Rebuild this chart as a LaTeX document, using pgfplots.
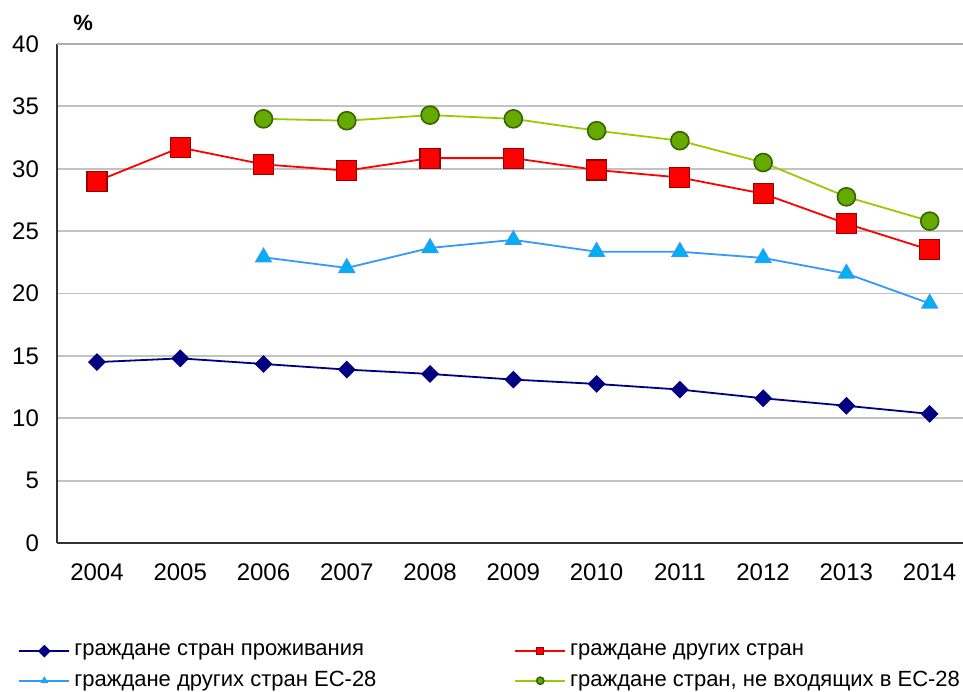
\documentclass[border=0pt]{standalone}
\usepackage{pgfplots}
\pgfplotsset{compat=1.18}
\usepackage{fontspec}
\setmainfont{Liberation Sans}
\definecolor{cNavy}{HTML}{000080}
\definecolor{cRed}{HTML}{FF0000}
\definecolor{cRedD}{HTML}{990000}
\definecolor{cBlue}{HTML}{3399FF}
\definecolor{cCyan}{HTML}{00B0F0}
\definecolor{cGreen}{HTML}{99CC00}
\definecolor{cGreenF}{HTML}{66AA00}
\definecolor{cGreenD}{HTML}{336600}
\begin{document}
\begin{tikzpicture}
\begin{axis}[
  scale only axis,
  width=453pt, height=249.5pt,
  xmin=2003.52, xmax=2014.4,
  ymin=0, ymax=40,
  ytick={0,5,...,40},
  xtick={2004,...,2014},
  /pgf/number format/1000 sep={},
  /pgf/number format/assume math mode=true,
  tick label style={font=\fontsize{12}{14}\selectfont},
  xticklabel style={yshift=-7pt},
  yticklabel style={xshift=-5.5pt},
  major tick length=0pt,
  axis x line*=bottom, axis y line*=left,
  axis line style={draw=black!80, line width=1pt, -},
  ymajorgrids, grid style={draw=black!24, line width=0.9pt},
  clip=false,
  legend columns=2,
  legend style={draw=none, at={(rel axis cs:-0.0496,-0.185)}, anchor=north west,
    font=\fontsize{11}{13}\selectfont, row sep=2.5pt},
  legend cell align=left,
  legend image code/.code={\draw[#1] (0cm,0cm) -- (0.88cm,0cm);
    \draw[#1, mark size=1.8pt] plot coordinates {(0.44cm,0cm)};},
]
\draw[draw=black!32, line width=1.1pt] (rel axis cs:0,1) -- (rel axis cs:1,1);
\addplot[color=cNavy, line width=0.9pt, mark=square*, mark size=2.7pt, mark options={fill=cNavy, draw=cNavy, rotate=45}]
  coordinates {(2004,14.5)(2005,14.8)(2006,14.35)(2007,13.9)(2008,13.55)(2009,13.1)(2010,12.75)(2011,12.3)(2012,11.6)(2013,11.0)(2014,10.35)};
\addlegendentry{\makebox[218pt][l]{граждане стран проживания}}
\addplot[color=cRed, line width=0.9pt, mark=square*, mark size=5pt, mark options={fill=cRed, draw=cRedD, line width=0.6pt}]
  coordinates {(2004,29.0)(2005,31.7)(2006,30.35)(2007,29.85)(2008,30.85)(2009,30.85)(2010,29.9)(2011,29.3)(2012,28.0)(2013,25.6)(2014,23.5)};
\addlegendentry{граждане других стран}
\addplot[color=cBlue, line width=0.9pt, mark=triangle*, mark size=4.6pt, mark options={fill=cCyan, draw=cBlue, line width=0.5pt}]
  coordinates {(2006,22.9)(2007,22.05)(2008,23.65)(2009,24.3)(2010,23.35)(2011,23.35)(2012,22.85)(2013,21.6)(2014,19.2)};
\addlegendentry{\makebox[218pt][l]{граждане других стран ЕС-28}}
\addplot[color=cGreen, line width=0.9pt, mark=*, mark size=4.5pt, mark options={fill=cGreenF, draw=cGreenD, line width=0.8pt}]
  coordinates {(2006,34.0)(2007,33.85)(2008,34.3)(2009,34.0)(2010,33.05)(2011,32.25)(2012,30.5)(2013,27.75)(2014,25.8)};
\addlegendentry{граждане стран, не входящих в ЕС-28}
\node[anchor=south west, font=\fontsize{11}{13}\selectfont\bfseries, inner sep=0pt] at ([shift={(8pt,6.5pt)}]rel axis cs:0,1) {\%};
\coordinate (bl) at (rel axis cs:0,0);
\coordinate (tr) at (rel axis cs:1,1);
\end{axis}
\pgfresetboundingbox
\path ([shift={(-28.5pt,-74pt)}]bl) rectangle ([shift={(0pt,22pt)}]tr);
\end{tikzpicture}
\end{document}
